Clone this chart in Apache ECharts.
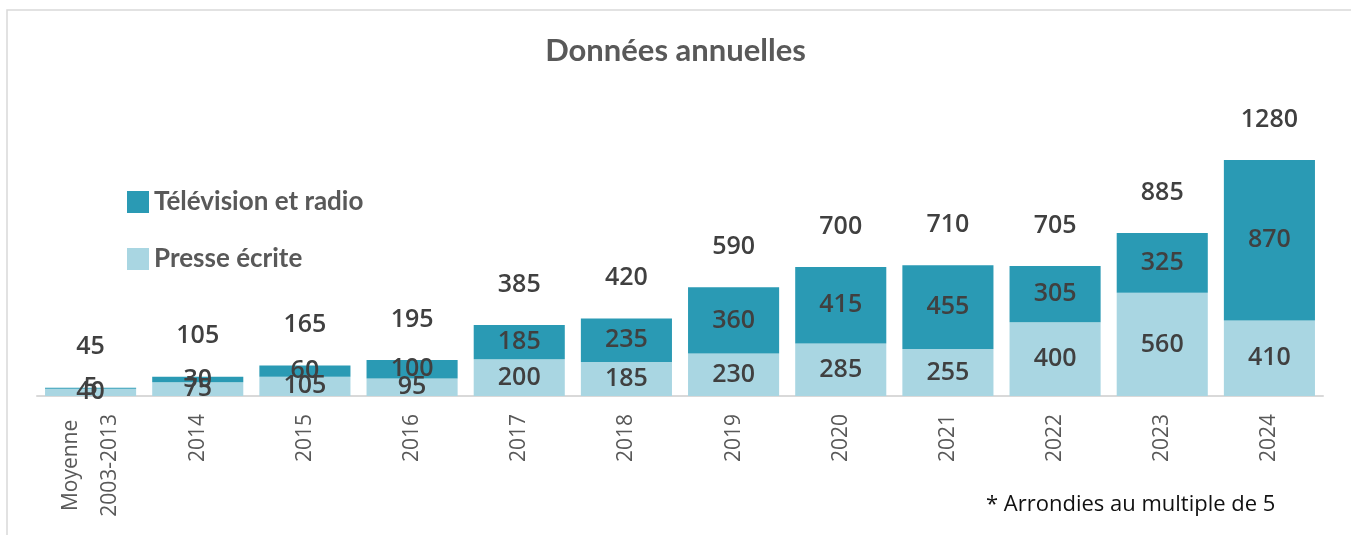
<!DOCTYPE html>
<html>
<head>
<meta charset="utf-8">
<script src="https://cdn.jsdelivr.net/npm/echarts@6/dist/echarts.min.js"></script>
<style>
  html, body { margin: 0; padding: 0; background: #fff; }
  #chart { width: 1351px; height: 535px; }
</style>
</head>
<body>
<div id="chart"></div>
<script>
const categories = ['Moyenne\n2003-2013', '2014', '2015', '2016', '2017', '2018', '2019', '2020', '2021', '2022', '2023', '2024']
const presse = [40, 75, 105, 95, 200, 185, 230, 285, 255, 400, 560, 410]
const television = [5, 30, 60, 100, 185, 235, 360, 415, 455, 305, 325, 870]
const totals = [45, 105, 165, 195, 385, 420, 590, 700, 710, 705, 885, 1280]

const labelFont = 'Open Sans'
const darkText = '#404040'
const greyText = '#595959'

const chart = echarts.init(document.getElementById('chart'))

const valueLabel = {
  show: true,
  position: 'inside',
  fontFamily: labelFont,
  fontSize: 25,
  fontWeight: 600,
  color: darkText
}

const option = {
  animation: false,
  title: {
    text: 'Données annuelles',
    left: 'center',
    top: 30,
    textStyle: {
      fontFamily: 'Lato',
      fontSize: 31,
      fontWeight: 'bold',
      color: greyText
    }
  },
  legend: {
    data: ['Télévision et radio', 'Presse écrite'],
    orient: 'vertical',
    left: 122,
    top: 184,
    itemWidth: 22,
    itemHeight: 22,
    itemGap: 31,
    icon: 'rect',
    textStyle: {
      fontFamily: 'Lato',
      fontSize: 26,
      fontWeight: 'bold',
      color: greyText
    }
  },
  grid: {
    left: 37,
    right: 28,
    top: 138,
    bottom: 139
  },
  xAxis: {
    type: 'category',
    data: categories,
    axisLine: { lineStyle: { color: '#d9d9d9', width: 2 } },
    axisTick: { show: false },
    axisLabel: {
      rotate: 90,
      margin: 18,
      interval: 0,
      fontFamily: labelFont,
      fontSize: 21,
      color: greyText,
      formatter: (v, i) => {
        if (i === 0) {
          const parts = v.split('\n')
          return '{m|' + parts[0] + '}\n{m|' + parts[1] + '}'
        }
        return v
      },
      rich: {
        m: {
          align: 'center',
          lineHeight: 39,
          fontFamily: labelFont,
          fontSize: 21,
          color: greyText
        }
      }
    }
  },
  yAxis: {
    type: 'value',
    min: 0,
    max: 1400,
    show: false,
    splitLine: { show: false }
  },
  series: [
    {
      name: 'Presse écrite',
      type: 'bar',
      stack: 'total',
      data: presse,
      barCategoryGap: '15%',
      itemStyle: { color: '#a9d6e2' },
      label: valueLabel
    },
    {
      name: 'Télévision et radio',
      type: 'bar',
      stack: 'total',
      data: television,
      itemStyle: { color: '#2a9ab4' },
      label: valueLabel
    },
    {
      name: 'Total',
      type: 'bar',
      data: totals,
      barGap: '-100%',
      silent: true,
      itemStyle: { color: 'rgba(0,0,0,0)' },
      label: {
        show: true,
        position: 'top',
        distance: 28,
        fontFamily: labelFont,
        fontSize: 25,
        fontWeight: 600,
        color: darkText
      },
      z: 1
    }
  ],
  graphic: [
    {
      type: 'polyline',
      shape: { points: [[7, 535], [7, 10], [1351, 10]] },
      style: { stroke: '#d9d9d9', lineWidth: 1.5, fill: null },
      silent: true
    },
    {
      type: 'text',
      left: 986,
      top: 494,
      style: {
        text: '* Arrondies au multiple de 5',
        font: '22px "Open Sans"',
        fill: '#111'
      }
    }
  ]
}

chart.setOption(option)
</script>
</body>
</html>
